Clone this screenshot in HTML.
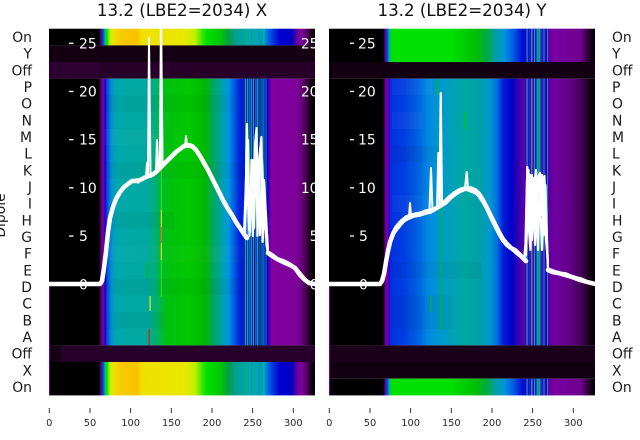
<!DOCTYPE html>
<html><head><meta charset="utf-8"><style>
html,body{margin:0;padding:0;background:#fff;}
svg{display:block;}
text{font-family:"DejaVu Sans","Liberation Sans",sans-serif;}
</style></head><body>
<svg width="640" height="440" viewBox="0 0 640 440" xmlns="http://www.w3.org/2000/svg">
<defs>
<linearGradient id="LM" gradientUnits="userSpaceOnUse" x1="49" y1="0" x2="315" y2="0">
<stop offset="0" stop-color="#000"/><stop offset="0.188" stop-color="#000"/><stop offset="0.195" stop-color="#500060"/><stop offset="0.203" stop-color="#8000a8"/><stop offset="0.211" stop-color="#2000d0"/><stop offset="0.222" stop-color="#0060e0"/><stop offset="0.237" stop-color="#0098c8"/><stop offset="0.259" stop-color="#00a8a8"/><stop offset="0.372" stop-color="#00a8a0"/><stop offset="0.402" stop-color="#00b070"/><stop offset="0.440" stop-color="#00c010"/><stop offset="0.530" stop-color="#00c800"/><stop offset="0.586" stop-color="#00b800"/><stop offset="0.617" stop-color="#00a860"/><stop offset="0.650" stop-color="#00a0a8"/><stop offset="0.673" stop-color="#0098e0"/><stop offset="0.695" stop-color="#0060e0"/><stop offset="0.718" stop-color="#0020d8"/><stop offset="0.801" stop-color="#0000d0"/><stop offset="0.823" stop-color="#2000c0"/><stop offset="0.835" stop-color="#8000a0"/><stop offset="0.929" stop-color="#80009c"/><stop offset="0.955" stop-color="#600070"/><stop offset="0.977" stop-color="#280028"/><stop offset="0.992" stop-color="#000"/><stop offset="1" stop-color="#000"/>
</linearGradient>
<linearGradient id="LY" gradientUnits="userSpaceOnUse" x1="49" y1="0" x2="315" y2="0">
<stop offset="0" stop-color="#000"/><stop offset="0.188" stop-color="#000"/><stop offset="0.195" stop-color="#600080"/><stop offset="0.203" stop-color="#0040e0"/><stop offset="0.211" stop-color="#00c080"/><stop offset="0.218" stop-color="#00e000"/><stop offset="0.229" stop-color="#c0f000"/><stop offset="0.244" stop-color="#f0e000"/><stop offset="0.274" stop-color="#f8c800"/><stop offset="0.331" stop-color="#f8c400"/><stop offset="0.350" stop-color="#f0e000"/><stop offset="0.511" stop-color="#e8e800"/><stop offset="0.549" stop-color="#c0f000"/><stop offset="0.575" stop-color="#40e800"/><stop offset="0.594" stop-color="#00e000"/><stop offset="0.643" stop-color="#00c800"/><stop offset="0.673" stop-color="#00a040"/><stop offset="0.703" stop-color="#00a090"/><stop offset="0.737" stop-color="#00a0b0"/><stop offset="0.812" stop-color="#0090e0"/><stop offset="0.838" stop-color="#0040e0"/><stop offset="0.868" stop-color="#0000d0"/><stop offset="0.914" stop-color="#0000c0"/><stop offset="0.932" stop-color="#6000a0"/><stop offset="0.951" stop-color="#800098"/><stop offset="0.970" stop-color="#500060"/><stop offset="0.985" stop-color="#200020"/><stop offset="0.996" stop-color="#000"/><stop offset="1" stop-color="#000"/>
</linearGradient>
<linearGradient id="RM" gradientUnits="userSpaceOnUse" x1="329" y1="0" x2="595" y2="0">
<stop offset="0" stop-color="#000"/><stop offset="0.203" stop-color="#000"/><stop offset="0.211" stop-color="#600080"/><stop offset="0.218" stop-color="#8000a8"/><stop offset="0.226" stop-color="#3000d0"/><stop offset="0.233" stop-color="#0030e0"/><stop offset="0.286" stop-color="#0040e0"/><stop offset="0.335" stop-color="#0060e0"/><stop offset="0.372" stop-color="#0088e0"/><stop offset="0.417" stop-color="#0098d0"/><stop offset="0.462" stop-color="#00a0b8"/><stop offset="0.511" stop-color="#00a8a0"/><stop offset="0.568" stop-color="#00a0a8"/><stop offset="0.605" stop-color="#0098d0"/><stop offset="0.632" stop-color="#0070e0"/><stop offset="0.654" stop-color="#0020d8"/><stop offset="0.688" stop-color="#0000c8"/><stop offset="0.711" stop-color="#3000b0"/><stop offset="0.733" stop-color="#5800a8"/><stop offset="0.823" stop-color="#5800a0"/><stop offset="0.850" stop-color="#7000a0"/><stop offset="0.906" stop-color="#600088"/><stop offset="0.951" stop-color="#400050"/><stop offset="0.981" stop-color="#180018"/><stop offset="1" stop-color="#000"/>
</linearGradient>
<linearGradient id="RG" gradientUnits="userSpaceOnUse" x1="329" y1="0" x2="595" y2="0">
<stop offset="0" stop-color="#000"/><stop offset="0.203" stop-color="#000"/><stop offset="0.211" stop-color="#600080"/><stop offset="0.218" stop-color="#0040e0"/><stop offset="0.226" stop-color="#00a0d0"/><stop offset="0.233" stop-color="#00e000"/><stop offset="0.455" stop-color="#00e000"/><stop offset="0.549" stop-color="#00c000"/><stop offset="0.594" stop-color="#00a840"/><stop offset="0.624" stop-color="#00a0a0"/><stop offset="0.662" stop-color="#0090e0"/><stop offset="0.699" stop-color="#0050e0"/><stop offset="0.726" stop-color="#0010d8"/><stop offset="0.741" stop-color="#2000c0"/><stop offset="0.823" stop-color="#6000a0"/><stop offset="0.850" stop-color="#7800a0"/><stop offset="0.944" stop-color="#700090"/><stop offset="0.966" stop-color="#400050"/><stop offset="0.989" stop-color="#100010"/><stop offset="1" stop-color="#000"/>
</linearGradient>
<clipPath id="cl"><rect x="49" y="28" width="266" height="368"/></clipPath>
<clipPath id="cr"><rect x="329" y="28" width="266" height="368"/></clipPath>
</defs>

<!-- Titles -->
<text x="182" y="16" font-size="16.67" text-anchor="middle" fill="#111">13.2 (LBE2=2034) X</text>
<text x="462" y="16" font-size="16.67" text-anchor="middle" fill="#111">13.2 (LBE2=2034) Y</text>

<!-- ============ LEFT HEATMAP ============ -->
<g>
<rect x="49" y="28.7" width="266" height="16.7" fill="url(#LY)"/>
<rect x="49" y="45.4" width="266" height="16.6" fill="#140012"/>
<rect x="49" y="62" width="266" height="16.7" fill="#260029"/>
<rect x="49" y="62" width="50" height="16.7" fill="#2c0030"/>
<rect x="49" y="78.7" width="266" height="266.7" fill="url(#LM)"/>
<rect x="49" y="345.4" width="266" height="16.6" fill="#26002b"/>
<rect x="49" y="345.4" width="12" height="16.6" fill="#150015"/>
<rect x="49" y="362" width="266" height="33.4" fill="url(#LY)"/>
<!-- row variation -->
<rect x="104" y="95.3" width="130" height="16.7" fill="#000" opacity="0.035"/>
<rect x="104" y="128.7" width="60" height="16.7" fill="#fff" opacity="0.03"/>
<rect x="104" y="162" width="140" height="16.7" fill="#000" opacity="0.03"/>
<rect x="104" y="212" width="70" height="16.7" fill="#000" opacity="0.035"/>
<rect x="104" y="245.4" width="140" height="16.7" fill="#fff" opacity="0.025"/>
<rect x="104" y="278.7" width="140" height="16.7" fill="#000" opacity="0.03"/>
<rect x="104" y="312" width="60" height="16.7" fill="#000" opacity="0.03"/>
<!-- stripes -->
<g>
<rect x="245" y="28.7" width="1" height="16.7" fill="#00c040"/><rect x="247" y="28.7" width="1.2" height="16.7" fill="#00a0e0"/><rect x="249.5" y="28.7" width="0.8" height="16.7" fill="#00e000"/><rect x="251" y="28.7" width="1" height="16.7" fill="#0090e0"/><rect x="253" y="28.7" width="1" height="16.7" fill="#00b0a0"/><rect x="255.5" y="28.7" width="0.8" height="16.7" fill="#00d040"/><rect x="257" y="28.7" width="1.2" height="16.7" fill="#00a0e0"/><rect x="259.5" y="28.7" width="0.8" height="16.7" fill="#00c000"/><rect x="261.5" y="28.7" width="1" height="16.7" fill="#00a0d0"/><rect x="263.5" y="28.7" width="0.8" height="16.7" fill="#00e040"/><rect x="265.5" y="28.7" width="1" height="16.7" fill="#0080e0"/>
</g>
<g>
<rect x="245" y="78.7" width="1" height="266.7" fill="#00c040"/><rect x="247" y="78.7" width="1.2" height="266.7" fill="#00a0e0"/><rect x="249.5" y="78.7" width="0.8" height="266.7" fill="#00e000"/><rect x="251" y="78.7" width="1" height="266.7" fill="#0090e0"/><rect x="253" y="78.7" width="1" height="266.7" fill="#00b0a0"/><rect x="255.5" y="78.7" width="0.8" height="266.7" fill="#00d040"/><rect x="257" y="78.7" width="1.2" height="266.7" fill="#00a0e0"/><rect x="259.5" y="78.7" width="0.8" height="266.7" fill="#00c000"/><rect x="261.5" y="78.7" width="1" height="266.7" fill="#00a0d0"/><rect x="263.5" y="78.7" width="0.8" height="266.7" fill="#00e040"/><rect x="265.5" y="78.7" width="1" height="266.7" fill="#0080e0"/>
</g>
<g>
<rect x="245" y="362" width="1" height="33.4" fill="#00c040"/><rect x="247" y="362" width="1.2" height="33.4" fill="#00a0e0"/><rect x="249.5" y="362" width="0.8" height="33.4" fill="#00e000"/><rect x="251" y="362" width="1" height="33.4" fill="#0090e0"/><rect x="253" y="362" width="1" height="33.4" fill="#00b0a0"/><rect x="255.5" y="362" width="0.8" height="33.4" fill="#00d040"/><rect x="257" y="362" width="1.2" height="33.4" fill="#00a0e0"/><rect x="259.5" y="362" width="0.8" height="33.4" fill="#00c000"/><rect x="261.5" y="362" width="1" height="33.4" fill="#00a0d0"/><rect x="263.5" y="362" width="0.8" height="33.4" fill="#00e040"/><rect x="265.5" y="362" width="1" height="33.4" fill="#0080e0"/>
</g>
<!-- special single lines -->
<rect x="160.8" y="78.7" width="1.2" height="218" fill="#30e000"/>
<rect x="160.8" y="210" width="1.2" height="17" fill="#e0e000"/>
<rect x="160.8" y="227" width="1.2" height="16" fill="#f07000"/>
<rect x="160.8" y="243" width="1.2" height="17" fill="#e0e000"/>
<rect x="148.5" y="329" width="1.2" height="16" fill="#e02000"/>
<rect x="149.5" y="296" width="1.2" height="15" fill="#e0f000"/>
<rect x="146.5" y="262" width="1.2" height="16" fill="#00c000"/>
<rect x="49" y="285" width="0.9" height="110.4" fill="#8000a0"/>
</g>

<!-- ============ RIGHT HEATMAP ============ -->
<g>
<rect x="329" y="28.7" width="266" height="33.3" fill="url(#RG)"/>
<rect x="329" y="62" width="266" height="16.7" fill="#130011"/>
<rect x="329" y="78.7" width="266" height="266.7" fill="url(#RM)"/>
<rect x="329" y="345.4" width="266" height="16.6" fill="#1a0018"/>
<rect x="329" y="362" width="266" height="16.7" fill="#110010"/>
<rect x="329" y="378.7" width="266" height="16.7" fill="url(#RG)"/>
<!-- row variation -->
<rect x="392" y="78.7" width="40" height="16.7" fill="#fff" opacity="0.035"/>
<rect x="392" y="112" width="30" height="16.7" fill="#fff" opacity="0.04"/>
<rect x="392" y="145.4" width="50" height="16.7" fill="#000" opacity="0.04"/>
<rect x="392" y="195.4" width="40" height="16.7" fill="#fff" opacity="0.03"/>
<rect x="392" y="262" width="90" height="16.7" fill="#000" opacity="0.03"/>
<rect x="392" y="295.4" width="60" height="33.4" fill="#000" opacity="0.035"/>
<!-- stripes -->
<g>
<rect x="526.5" y="28.7" width="1.2" height="33.3" fill="#00a0d0"/><rect x="529" y="28.7" width="1" height="33.3" fill="#0030e0"/><rect x="531" y="28.7" width="1.5" height="33.3" fill="#00a0b0"/><rect x="534" y="28.7" width="1" height="33.3" fill="#00a0e0"/><rect x="536.5" y="28.7" width="4" height="33.3" fill="#00a0a0"/><rect x="541.5" y="28.7" width="1" height="33.3" fill="#0040e0"/><rect x="543.5" y="28.7" width="1" height="33.3" fill="#00a0c0"/><rect x="545.5" y="28.7" width="1" height="33.3" fill="#0000e0"/><rect x="547" y="28.7" width="1" height="33.3" fill="#0090e0"/>
</g>
<g>
<rect x="526.5" y="78.7" width="1.2" height="266.7" fill="#00a0d0"/><rect x="529" y="78.7" width="1" height="266.7" fill="#0030e0"/><rect x="531" y="78.7" width="1.5" height="266.7" fill="#00a0b0"/><rect x="534" y="78.7" width="1" height="266.7" fill="#00a0e0"/><rect x="536.5" y="78.7" width="4" height="266.7" fill="#00a0a0"/><rect x="541.5" y="78.7" width="1" height="266.7" fill="#0040e0"/><rect x="543.5" y="78.7" width="1" height="266.7" fill="#00a0c0"/><rect x="545.5" y="78.7" width="1" height="266.7" fill="#0000e0"/><rect x="547" y="78.7" width="1" height="266.7" fill="#0090e0"/>
</g>
<g>
<rect x="526.5" y="378.7" width="1.2" height="16.7" fill="#00a0d0"/><rect x="529" y="378.7" width="1" height="16.7" fill="#0030e0"/><rect x="531" y="378.7" width="1.5" height="16.7" fill="#00a0b0"/><rect x="534" y="378.7" width="1" height="16.7" fill="#00a0e0"/><rect x="536.5" y="378.7" width="4" height="16.7" fill="#00a0a0"/><rect x="541.5" y="378.7" width="1" height="16.7" fill="#0040e0"/><rect x="543.5" y="378.7" width="1" height="16.7" fill="#00a0c0"/><rect x="545.5" y="378.7" width="1" height="16.7" fill="#0000e0"/><rect x="547" y="378.7" width="1" height="16.7" fill="#0090e0"/>
</g>
<rect x="436.2" y="78.7" width="1.2" height="16.7" fill="#00c000"/>
<rect x="464.5" y="112" width="1.2" height="16.7" fill="#00c000"/>
<rect x="440.2" y="200" width="1.2" height="130" fill="#00c000"/>
<rect x="430.2" y="295.4" width="1.2" height="16.5" fill="#00c000"/>
<rect x="329" y="285" width="0.9" height="110.4" fill="#8000a0"/>
</g>

<!-- ============ LEFT WHITE AXIS + LINES ============ -->
<g fill="#fff" font-size="13.9">
<rect x="69" y="42.6" width="4.5" height="1.3"/><text x="79" y="48.3">25</text>
<rect x="69" y="90.8" width="4.5" height="1.3"/><text x="79" y="96.5">20</text>
<rect x="69" y="139" width="4.5" height="1.3"/><text x="79" y="144.7">15</text>
<rect x="69" y="187.2" width="4.5" height="1.3"/><text x="79" y="192.9">10</text>
<rect x="69" y="235.4" width="4.5" height="1.3"/><text x="79" y="241.1">5</text>
<text x="79" y="289.3">0</text>
</g>
<g clip-path="url(#cl)" fill="#fff" font-size="13.9" text-anchor="end">
<text x="318.5" y="48.3">25</text>
<text x="318.5" y="96.5">20</text>
<text x="318.5" y="144.7">15</text>
<text x="318.5" y="192.9">10</text>
<text x="318.5" y="241.1">5</text>
<text x="318.5" y="289.3">0</text>
</g>
<g clip-path="url(#cl)" fill="none" stroke="#fff" stroke-linejoin="round" stroke-linecap="round">
<polyline stroke-width="4.5" points="49,284 100,284 102,281 104,268 106,252 108,232 110,218 113,207 116,199 120,192 124,187 128,184 132,181 136,181 140,180 144,178 148,176 152,175 156,172 160,168 164,164 168,160 172,156 176,152 180,149 184,146 188,145 192,146 196,150 200,156 204,163 208,170 212,178 216,186 220,194 224,202 228,209 232,215 236,222 240,228 244,234 247,238"/>
<polyline stroke-width="1.6" points="102,280 105,258 108,236 111,215 115,203 119,195 124,189 128,182 133,180 138,183 143,179 148,178 153,174 158,171 163,166 168,161 173,155 178,151 183,148 188,147 193,148 197,153 201,159 205,166 209,173 213,181 217,189 221,196 225,204 229,211 233,218 237,225 241,230 245,237"/>
<polyline stroke-width="1.6" points="103,281 106,255 109,228 112,210 116,201 121,190 126,184 131,183 136,179 141,181 146,176 151,177 156,170 161,169 166,161 171,158 176,150 181,150 186,144 191,144 195,149 199,154 203,161 207,169 211,176 215,183 219,192 223,199 227,207 231,213 235,220 239,227 243,232 246,238"/>
<polyline stroke-width="2" points="185,147 186,136 187,146"/>
<polyline stroke-width="2" points="146,177 147,163 148,176"/>
<polyline stroke-width="2" points="148,176 149,38 150.5,175"/>
<polyline stroke-width="2" points="156,172 157,140 158.5,171"/>
<polyline stroke-width="2.2" points="160,168 161,20 162.5,167"/>
<polyline stroke-width="2.2" points="244,234 246,180 247,124 248.5,200 250,232 251.5,160 253,236 255,145 256.5,128 258,220 260,150 261.5,137 263,238 265,205 266.5,245 268,253"/>
<polyline stroke-width="2.2" points="245,238 246.5,150 248,140 249.5,236 251,190 252.5,160 254,228 256,135 257.5,236 259,160 261,145 262.5,242 264,180 266,215 268,253"/>
<polyline stroke-width="2.2" points="245,236 247,170 249,230 252,170 254,200 256,150 258,180 260,235 262,160 264,220 267,235 268,253"/>
<polyline stroke-width="4.5" points="268,253 272,256 277,259 283,262 290,265 295,268 300,275 305,280 309,283 315,284"/>
<polyline stroke-width="1.6" points="268,251 273,254 278,258 284,260 290,263 296,267 301,273 306,279 310,282"/>
</g>

<!-- ============ RIGHT WHITE AXIS + LINES ============ -->
<g fill="#fff" font-size="13.9">
<rect x="350" y="42.6" width="4" height="1.3"/><text x="358" y="48.3">25</text>
<rect x="350" y="90.8" width="4" height="1.3"/><text x="358" y="96.5">20</text>
<rect x="350" y="139" width="4" height="1.3"/><text x="358" y="144.7">15</text>
<rect x="350" y="187.2" width="4" height="1.3"/><text x="358" y="192.9">10</text>
<rect x="350" y="235.4" width="4" height="1.3"/><text x="359" y="241.1">5</text>
<text x="359" y="289.3">0</text>
</g>
<g clip-path="url(#cr)" fill="none" stroke="#fff" stroke-linejoin="round" stroke-linecap="round">
<polyline stroke-width="4.5" points="329,284 380,284 382,281 384,274 386,262 388,251 390,242 393,234 396,228 400,223 405,219 410,217 415,215 420,214 425,212.5 430,211 435,209 440,206 445,202 450,197 455,193 460,190 465,188.5 470,189 475,191 479,195 483,201 487,208 491,217 495,225 499,233 503,240 507,245 511,248 515,251 519,254 523,258 526,261"/>
<polyline stroke-width="1.6" points="383,278 386,265 389,252 392,240 395,233 399,228 404,222 409,219 414,217 420,216 426,214 431,213 436,210 441,207 446,204 451,199 456,195 461,192 466,190 471,192 476,194 480,198 484,205 488,213 492,221 496,229 500,237 504,243 508,247 512,250 516,254 520,257 525,262"/>
<polyline stroke-width="1.6" points="384,276 387,258 390,244 393,236 397,226 401,220 406,216 411,214 416,213 421,212 426,210 431,209 436,207 441,204 446,200 451,195 456,191 461,188 466,187 471,187 476,189 480,193 484,199 488,207 492,215 496,223 500,231 504,238 508,243 512,247 516,249 520,253 525,259"/>
<polyline stroke-width="2" points="409,217 410,203 411,216"/>
<polyline stroke-width="2" points="429.5,211 431,168 432.5,211"/>
<polyline stroke-width="2" points="437,208 438.3,153 439.5,207"/>
<polyline stroke-width="2.2" points="439.5,207 440.7,93 442,205"/>
<polyline stroke-width="2" points="465,188 466.7,172 468,188"/>
<polyline stroke-width="2.2" points="524,259 526,240 527.3,167 529,230 530.5,250 532,185 533.5,178 535,245 537,200 538.5,176 540,173 541.5,215 543,180 544.5,176 546,240 547.5,255 548,270"/>
<polyline stroke-width="2.2" points="525,262 527,180 528.5,170 530,245 532,175 534,230 536,185 538,250 540,178 542,175 544,235 545.5,185 547,250 548,270"/>
<polyline stroke-width="2.2" points="526,255 528,200 530,175 532,240 534,190 536,170 538,220 540,200 542,250 544,190 546,210 548,268"/>
<polyline stroke-width="4.5" points="548,270 552,272 558,273 565,275 572,277 580,280 587,282 595,284"/>
<polyline stroke-width="1.6" points="548,268 553,270 559,272 566,273 573,276 581,278 588,281 595,283"/>
</g>

<!-- ============ ROW LABELS ============ -->
<g font-size="13.9" fill="#1a1a1a" text-anchor="end">
<text x="32" y="42">On</text><text x="32" y="58.7">Y</text><text x="32" y="75.3">Off</text><text x="32" y="92">P</text><text x="32" y="108.7">O</text><text x="32" y="125.3">N</text><text x="32" y="142">M</text><text x="32" y="158.7">L</text><text x="32" y="175.3">K</text><text x="32" y="192">J</text><text x="32" y="208.7">I</text><text x="32" y="225.3">H</text><text x="32" y="242">G</text><text x="32" y="258.7">F</text><text x="32" y="275.3">E</text><text x="32" y="292">D</text><text x="32" y="308.7">C</text><text x="32" y="325.3">B</text><text x="32" y="342">A</text><text x="32" y="358.7">Off</text><text x="32" y="375.3">X</text><text x="32" y="392">On</text>
</g>
<g font-size="13.9" fill="#1a1a1a">
<text x="612" y="42">On</text><text x="612" y="58.7">Y</text><text x="612" y="75.3">Off</text><text x="612" y="92">P</text><text x="612" y="108.7">O</text><text x="612" y="125.3">N</text><text x="612" y="142">M</text><text x="612" y="158.7">L</text><text x="612" y="175.3">K</text><text x="612" y="192">J</text><text x="612" y="208.7">I</text><text x="612" y="225.3">H</text><text x="612" y="242">G</text><text x="612" y="258.7">F</text><text x="612" y="275.3">E</text><text x="612" y="292">D</text><text x="612" y="308.7">C</text><text x="612" y="325.3">B</text><text x="612" y="342">A</text><text x="612" y="358.7">Off</text><text x="612" y="375.3">X</text><text x="612" y="392">On</text>
</g>
<text transform="translate(5,215.5) rotate(-90)" font-size="13.9" text-anchor="middle" fill="#1a1a1a">Dipole</text>

<!-- ============ X AXES ============ -->
<g stroke="#333" stroke-width="1">
<line x1="49.3" y1="408" x2="49.3" y2="413"/><line x1="90" y1="408" x2="90" y2="413"/><line x1="130.6" y1="408" x2="130.6" y2="413"/><line x1="171.3" y1="408" x2="171.3" y2="413"/><line x1="212" y1="408" x2="212" y2="413"/><line x1="252.6" y1="408" x2="252.6" y2="413"/><line x1="293.3" y1="408" x2="293.3" y2="413"/>
<line x1="329.3" y1="408" x2="329.3" y2="413"/><line x1="370" y1="408" x2="370" y2="413"/><line x1="410.6" y1="408" x2="410.6" y2="413"/><line x1="451.3" y1="408" x2="451.3" y2="413"/><line x1="492" y1="408" x2="492" y2="413"/><line x1="532.6" y1="408" x2="532.6" y2="413"/><line x1="573.3" y1="408" x2="573.3" y2="413"/>
</g>
<g font-size="9.8" fill="#262626" text-anchor="middle">
<text x="49.3" y="426">0</text><text x="90" y="426">50</text><text x="130.6" y="426">100</text><text x="171.3" y="426">150</text><text x="212" y="426">200</text><text x="252.6" y="426">250</text><text x="293.3" y="426">300</text>
<text x="329.3" y="426">0</text><text x="370" y="426">50</text><text x="410.6" y="426">100</text><text x="451.3" y="426">150</text><text x="492" y="426">200</text><text x="532.6" y="426">250</text><text x="573.3" y="426">300</text>
</g>
</svg>
</body></html>
